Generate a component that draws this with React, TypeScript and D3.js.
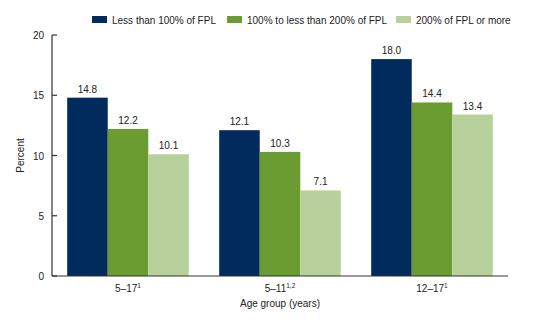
import React from "react";
import * as d3 from "d3";

const categories = ["5–17", "5–11", "12–17"];
const categorySups = ["1", "1,2", "1"];
const seriesNames = ["Less than 100% of FPL", "100% to less than 200% of FPL", "200% of FPL or more"];
const lessThan100 = [14.8, 12.1, 18.0];
const from100to200 = [12.2, 10.3, 14.4];
const over200 = [10.1, 7.1, 13.4];
const yTicks = [0, 5, 10, 15, 20];
const colors = ["#002B5C", "#6B9C31", "#B8D19B"];

const W = 560;
const H = 323;
const margin = { left: 52, right: 52, top: 35, bottom: 47 };

export default function App() {
  const series = [lessThan100, from100to200, over200];
  const x = d3
    .scaleBand<string>()
    .domain(categories)
    .range([margin.left, W - margin.right])
    .paddingInner(0.2)
    .paddingOuter(0.1);
  const xs = d3
    .scaleBand<number>()
    .domain([0, 1, 2])
    .range([0, x.bandwidth()]);
  const y = d3.scaleLinear().domain([0, 20]).range([H - margin.bottom, margin.top]);
  const font = "Arial, 'Liberation Sans', sans-serif";
  const legendX = [92, 227, 396];
  const fs = 10;

  return (
    <svg
      width={W}
      height={H}
      style={{ position: "absolute", left: 0, top: 0, fontFamily: font }}
    >
      <rect width={W} height={H} fill="#fff" />
      {/* legend */}
      {seriesNames.map((n, i) => (
        <g key={n} transform={`translate(${legendX[i]},16)`}>
          <rect width={15} height={7} fill={colors[i]} />
          <text x={20} y={7.5} fontSize={fs} fill="#222">
            {n}
          </text>
        </g>
      ))}
      {/* bars */}
      {categories.map((c, ci) =>
        series.map((s, si) => {
          const bx = (x(c) as number) + (xs(si) as number);
          const by = y(s[ci]);
          return (
            <g key={c + si}>
              <rect
                x={bx}
                y={by}
                width={xs.bandwidth()}
                height={y(0) - by}
                fill={colors[si]}
              />
              <text
                x={bx + xs.bandwidth() / 2}
                y={by - 5}
                textAnchor="middle"
                fontSize={fs}
                fill="#222"
              >
                {s[ci].toFixed(1)}
              </text>
            </g>
          );
        })
      )}
      {/* y axis */}
      <line x1={margin.left} x2={margin.left} y1={y(20)} y2={y(0)} stroke="#333" strokeWidth={1.2} />
      {yTicks.map((t) => (
        <g key={t}>
          <line x1={margin.left} x2={margin.left + 5} y1={y(t)} y2={y(t)} stroke="#333" strokeWidth={1.2} />
          <text x={margin.left - 8} y={y(t) + 4} textAnchor="end" fontSize={fs} fill="#222">
            {t}
          </text>
        </g>
      ))}
      {/* x axis */}
      <line x1={margin.left} x2={W - margin.right} y1={y(0)} y2={y(0)} stroke="#333" strokeWidth={1.2} />
      {categories.map((c, i) => (
        <text
          key={c}
          x={(x(c) as number) + x.bandwidth() / 2}
          y={y(0) + 16}
          textAnchor="middle"
          fontSize={fs}
          fill="#222"
        >
          {c}
          <tspan fontSize={6.5} dy={-4}>
            {categorySups[i]}
          </tspan>
        </text>
      ))}
      <text x={(margin.left + W - margin.right) / 2} y={y(0) + 31} textAnchor="middle" fontSize={fs} fill="#222">
        Age group (years)
      </text>
      <text
        transform={`translate(24,${(y(0) + y(20)) / 2}) rotate(-90)`}
        textAnchor="middle"
        fontSize={fs}
        fill="#222"
      >
        Percent
      </text>
    </svg>
  );
}
